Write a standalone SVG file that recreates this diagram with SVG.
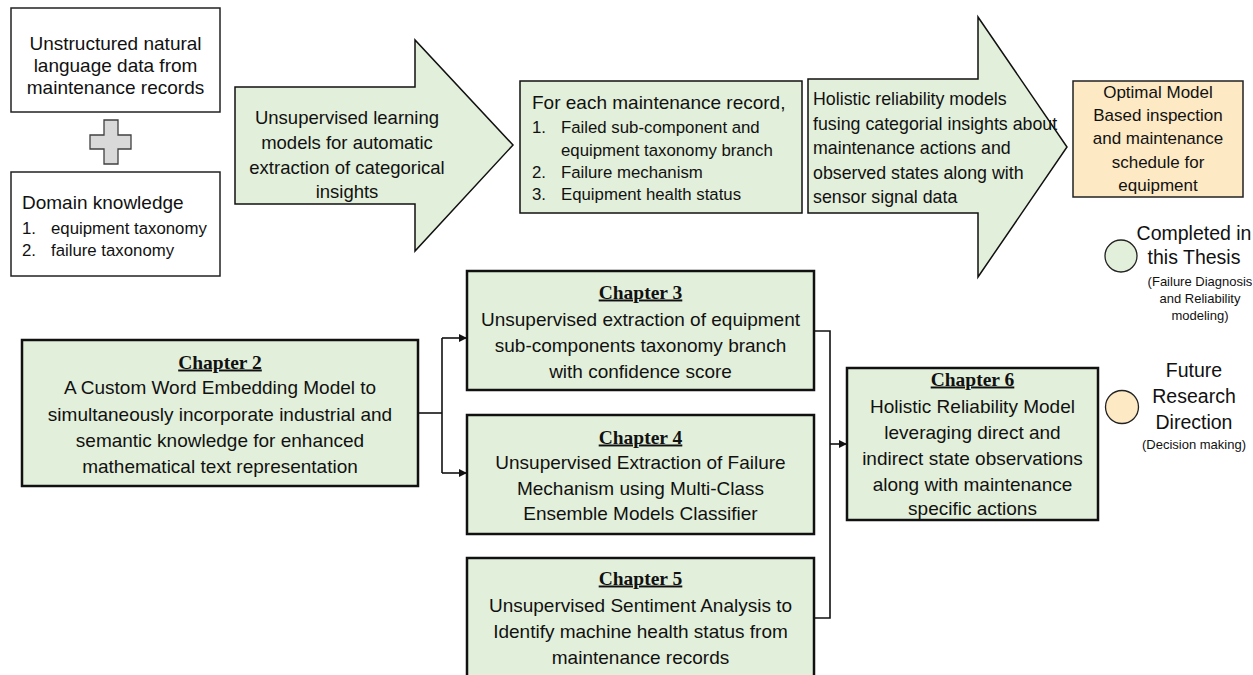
<svg xmlns="http://www.w3.org/2000/svg" width="1253" height="675" viewBox="0 0 1253 675">
  <style>
    .t { font-family: "Liberation Sans", Arial, sans-serif; fill: #111; }
    .c { text-anchor: middle; }
    .h { font-family: "Liberation Serif", "Times New Roman", serif; font-weight: bold; font-size: 19.5px; text-decoration: underline; text-anchor: middle; fill: #111; }
    .plain { fill: #ffffff; stroke: #222; stroke-width: 1.5; }
    .green { fill: #e2efda; stroke: #111; stroke-width: 1.5; }
    .chap { fill: #e2efda; stroke: #111; stroke-width: 2.5; }
    .amber { fill: #fde9c4; stroke: #222; stroke-width: 1.5; }
    .wire { fill: none; stroke: #111; stroke-width: 1.6; }
  </style>
  <defs>
    <marker id="arrow" viewBox="0 0 10 10" refX="10" refY="5" markerWidth="5" markerHeight="5" orient="auto" markerUnits="strokeWidth">
      <path d="M0,0 L10,5 L0,10 Z" fill="#111"/>
    </marker>
  </defs>

  <rect width="1253" height="675" fill="#ffffff"/>

  <!-- input data -->
  <g id="raw-records">
    <rect class="plain" x="11" y="8" width="209" height="104"/>
    <text class="t c" font-size="19" x="115.5"><tspan x="115.5" y="49.5">Unstructured natural</tspan><tspan x="115.5" y="71.5">language data from</tspan><tspan x="115.5" y="93.5">maintenance records</tspan></text>
  </g>

  <g id="plus">
    <polygon points="104,120 118,120 118,135 131,135 131,149 118,149 118,164 104,164 104,149 90,149 90,135 104,135" fill="#d9d9d9" stroke="#404040" stroke-width="1.3"/>
  </g>

  <g id="domain-knowledge">
    <rect class="plain" x="11" y="172" width="209" height="104"/>
    <text class="t" font-size="19" x="22" y="208.5">Domain knowledge</text>
    <text class="t" font-size="16.8" x="22" y="234">1.</text>
    <text class="t" font-size="16.8" x="51" y="234">equipment taxonomy</text>
    <text class="t" font-size="16.8" x="22" y="256">2.</text>
    <text class="t" font-size="16.8" x="51" y="256">failure taxonomy</text>
  </g>

  <!-- pipeline -->
  <g id="extraction-arrow">
    <polygon class="green" points="235,87 415,87 415,40 513,145 415,251 415,204 235,204"/>
    <text class="t c" font-size="18.5"><tspan x="347" y="124">Unsupervised learning</tspan><tspan x="347" y="149">models for automatic</tspan><tspan x="347" y="174">extraction of categorical</tspan><tspan x="347" y="198">insights</tspan></text>
  </g>

  <g id="per-record-insights">
    <rect class="green" x="520" y="81" width="282" height="132"/>
    <text class="t" font-size="19" x="532" y="108.5">For each maintenance record,</text>
    <text class="t" font-size="16.8" x="532" y="133">1.</text>
    <text class="t" font-size="16.8" x="561" y="133">Failed sub-component and</text>
    <text class="t" font-size="16.8" x="561" y="156">equipment taxonomy branch</text>
    <text class="t" font-size="16.8" x="532" y="178">2.</text>
    <text class="t" font-size="16.8" x="561" y="178">Failure mechanism</text>
    <text class="t" font-size="16.8" x="532" y="200">3.</text>
    <text class="t" font-size="16.8" x="561" y="200">Equipment health status</text>
  </g>

  <g id="reliability-arrow">
    <polygon class="green" points="808,79 978,79 978,17 1067,147 978,277 978,213 808,213"/>
    <text class="t" font-size="17.8"><tspan x="813" y="105">Holistic reliability models</tspan><tspan x="813" y="129.5">fusing categorial insights about</tspan><tspan x="813" y="154">maintenance actions and</tspan><tspan x="813" y="178.5">observed states along with</tspan><tspan x="813" y="203">sensor signal data</tspan></text>
  </g>

  <g id="optimal-schedule">
    <rect class="amber" x="1073" y="81" width="170" height="116"/>
    <text class="t c" font-size="17"><tspan x="1158" y="98">Optimal Model</tspan><tspan x="1158" y="121">Based inspection</tspan><tspan x="1158" y="144">and maintenance</tspan><tspan x="1158" y="168">schedule for</tspan><tspan x="1158" y="191">equipment</tspan></text>
  </g>

  <!-- legend -->
  <g id="legend-completed">
    <circle cx="1121" cy="256" r="16" fill="#e2efda" stroke="#222" stroke-width="1.3"/>
    <text class="t c" font-size="19.5"><tspan x="1194" y="240">Completed in</tspan><tspan x="1194" y="264">this Thesis</tspan></text>
    <text class="t c" font-size="13"><tspan x="1200" y="285.5">(Failure Diagnosis</tspan><tspan x="1200" y="302.5">and Reliability</tspan><tspan x="1200" y="319.5">modeling)</tspan></text>
  </g>

  <g id="legend-future">
    <circle cx="1122" cy="407" r="16.5" fill="#fde9c4" stroke="#222" stroke-width="1.3"/>
    <text class="t c" font-size="19.5"><tspan x="1194" y="377">Future</tspan><tspan x="1194" y="403">Research</tspan><tspan x="1194" y="429">Direction</tspan></text>
    <text class="t c" font-size="13" x="1194" y="448.5">(Decision making)</text>
  </g>

  <!-- chapters -->
  <g id="chapter-2">
    <rect class="chap" x="22" y="340" width="396" height="146"/>
    <text class="h" x="220" y="368.5">Chapter 2</text>
    <text class="t c" font-size="19"><tspan x="220" y="393.5">A Custom Word Embedding Model to</tspan><tspan x="220" y="420.5">simultaneously incorporate industrial and</tspan><tspan x="220" y="446.5">semantic knowledge for enhanced</tspan><tspan x="220" y="472.5">mathematical text representation</tspan></text>
  </g>

  <g id="chapter-3">
    <rect class="chap" x="467" y="271" width="347" height="119"/>
    <text class="h" x="640.5" y="298.5">Chapter 3</text>
    <text class="t c" font-size="19"><tspan x="640.5" y="325.5">Unsupervised extraction of equipment</tspan><tspan x="640.5" y="351.5">sub-components taxonomy branch</tspan><tspan x="640.5" y="377.5">with confidence score</tspan></text>
  </g>

  <g id="chapter-4">
    <rect class="chap" x="467" y="415" width="347" height="119"/>
    <text class="h" x="640.5" y="443.5">Chapter 4</text>
    <text class="t c" font-size="19"><tspan x="640.5" y="468.5">Unsupervised Extraction of Failure</tspan><tspan x="640.5" y="494.5">Mechanism using Multi-Class</tspan><tspan x="640.5" y="519.5">Ensemble Models Classifier</tspan></text>
  </g>

  <g id="chapter-5">
    <rect class="chap" x="467" y="558" width="347" height="135"/>
    <text class="h" x="640.5" y="584.5">Chapter 5</text>
    <text class="t c" font-size="19"><tspan x="640.5" y="611.5">Unsupervised Sentiment Analysis to</tspan><tspan x="640.5" y="637.5">Identify machine health status from</tspan><tspan x="640.5" y="663.5">maintenance records</tspan></text>
  </g>

  <g id="chapter-6">
    <rect class="chap" x="847" y="368" width="251" height="152"/>
    <text class="h" x="972.5" y="385.5">Chapter 6</text>
    <text class="t c" font-size="19"><tspan x="972.5" y="412.5">Holistic Reliability Model</tspan><tspan x="972.5" y="439">leveraging direct and</tspan><tspan x="972.5" y="464.5">indirect state observations</tspan><tspan x="972.5" y="490.5">along with maintenance</tspan><tspan x="972.5" y="514.5">specific actions</tspan></text>
  </g>

  <!-- connectors -->
  <g id="connectors">
    <path class="wire" d="M418,413 H442"/>
    <path class="wire" d="M442,338 V473"/>
    <path class="wire" d="M442,338 H467" marker-end="url(#arrow)"/>
    <path class="wire" d="M442,473 H467" marker-end="url(#arrow)"/>
    <path class="wire" d="M814,331 H830 V618 H814"/>
    <path class="wire" d="M830,444 H847" marker-end="url(#arrow)"/>
  </g>
</svg>
